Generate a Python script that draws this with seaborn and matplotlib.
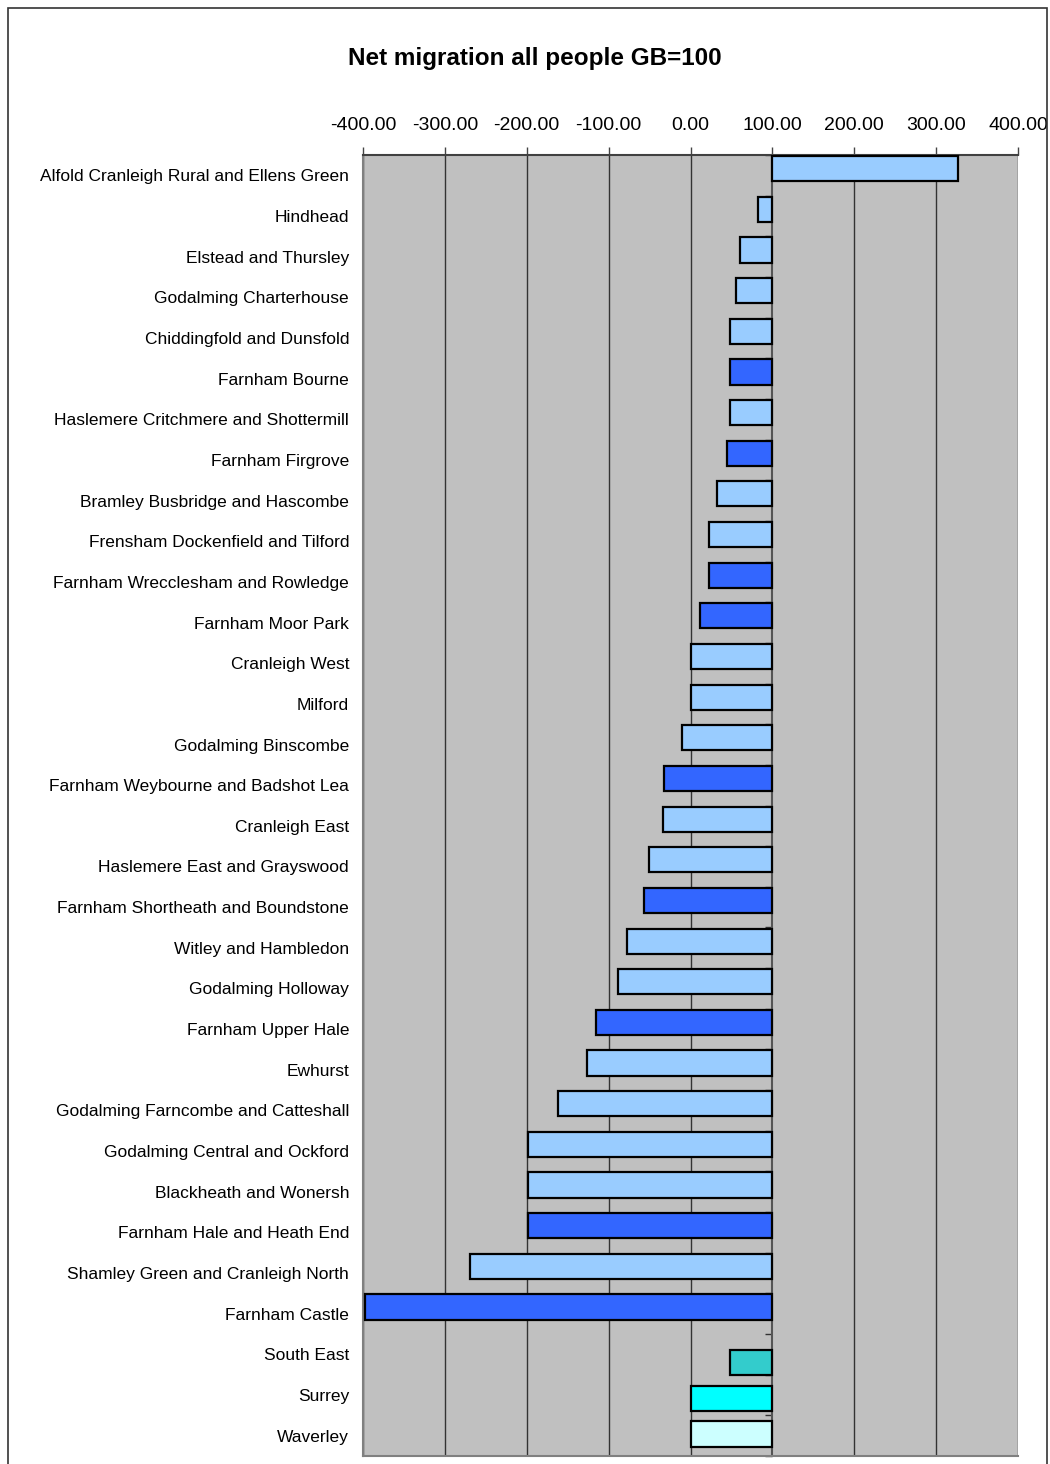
import matplotlib
matplotlib.use("Agg")
import matplotlib.pyplot as plt
import seaborn as sns
import pandas as pd
import numpy as np
from matplotlib.patches import Rectangle
from matplotlib.ticker import FuncFormatter, FixedLocator

areas = [
    "Alfold Cranleigh Rural and Ellens Green", "Hindhead", "Elstead and Thursley",
    "Godalming Charterhouse", "Chiddingfold and Dunsfold", "Farnham Bourne",
    "Haslemere Critchmere and Shottermill", "Farnham Firgrove",
    "Bramley Busbridge and Hascombe", "Frensham Dockenfield and Tilford",
    "Farnham Wrecclesham and Rowledge", "Farnham Moor Park", "Cranleigh West",
    "Milford", "Godalming Binscombe", "Farnham Weybourne and Badshot Lea",
    "Cranleigh East", "Haslemere East and Grayswood",
    "Farnham Shortheath and Boundstone", "Witley and Hambledon",
    "Godalming Holloway", "Farnham Upper Hale", "Ewhurst",
    "Godalming Farncombe and Catteshall", "Godalming Central and Ockford",
    "Blackheath and Wonersh", "Farnham Hale and Heath End",
    "Shamley Green and Cranleigh North", "Farnham Castle",
    "South East", "Surrey", "Waverley",
]
values = [
    327, 82, 60, 56, 48, 48, 48, 45, 32, 23, 22, 11, 1, 1, -10, -32, -34, -51,
    -57, -77, -88, -116, -127, -162, -199, -199, -199, -269, -397,
    48, 1, 1,
]
colors = [
    "#99CCFF", "#99CCFF", "#99CCFF", "#99CCFF", "#99CCFF", "#3366FF",
    "#99CCFF", "#3366FF", "#99CCFF", "#99CCFF", "#3366FF", "#3366FF",
    "#99CCFF", "#99CCFF", "#99CCFF", "#3366FF", "#99CCFF", "#99CCFF",
    "#3366FF", "#99CCFF", "#99CCFF", "#3366FF", "#99CCFF", "#99CCFF",
    "#99CCFF", "#99CCFF", "#3366FF", "#99CCFF", "#3366FF",
    "#33CCCC", "#00FFFF", "#CCFFFF",
]
# chart series each row belongs to (the original is a clustered, overlapped bar chart)
series = ["Wards"] * 29 + ["South East", "Surrey", "Waverley"]
series_order = ["Wards", "Waverley", "Surrey", "South East"]
base = 100
ticks = [-400, -300, -200, -100, 0, 100, 200, 300, 400]

sns.set_style("white")
plt.rcParams["font.family"] = ["Liberation Sans", "DejaVu Sans"]
plt.rcParams["text.color"] = "black"
plt.rcParams["xtick.color"] = "#444444"
plt.rcParams["ytick.color"] = "#444444"
plt.rcParams["xtick.labelcolor"] = "black"
plt.rcParams["ytick.labelcolor"] = "black"

n = len(areas)
step = 0.123
centre = 0.02
df = pd.DataFrame({"area": areas, "diff": [v - base for v in values],
                   "series": series})
df["row"] = np.arange(n)
df["pos"] = df["row"] + centre + (
    df["series"].map({s: k for k, s in enumerate(series_order)}) - 1.5) * step
palette = dict(zip(areas, colors))

fig = plt.figure(figsize=(10.5, 14.64), dpi=100)
ax = fig.add_axes([363 / 1050, 1 - 1456 / 1464, 655 / 1050, (1456 - 155) / 1464])
ax.set_facecolor("#C0C0C0")

for s in series_order:
    sub = df[df["series"] == s]
    sns.barplot(
        data=sub, x="diff", y="pos", hue="area", palette=palette, legend=False,
        orient="h", native_scale=True, left=base, width=0.62,
        edgecolor="black", linewidth=1.6, saturation=1, ax=ax, zorder=3,
    )

ax.set_xlim(-400, 400)
ax.set_ylim(n - 0.5, -0.5)
ax.set_yticks(np.arange(n), labels=areas)
ax.yaxis.set_minor_locator(FixedLocator(np.arange(n + 1) - 0.5))
ax.set_xticks(ticks)
ax.xaxis.set_major_formatter(FuncFormatter(lambda v, p: f"{v:.2f}"))
ax.xaxis.tick_top()
ax.tick_params(axis="x", which="major", length=6, width=1,
               labelsize=14, pad=9, direction="out")
ax.tick_params(axis="y", which="major", left=True, right=False, length=0,
               labelsize=12.5, pad=10)
ax.tick_params(axis="y", which="minor", left=False, right=True, length=5,
               width=1, direction="in", color="#333333")
ax.set_xlabel("")
ax.set_ylabel("")
for t in ticks:
    if t != base:
        ax.axvline(t, color="#333333", linewidth=1, zorder=1)
ax.spines["right"].set_position(("data", base))
ax.spines["right"].set_color("#555555")
ax.spines["right"].set_linewidth(1.5)
ax.spines["right"].set_zorder(2)
for s in ["top", "left", "bottom"]:
    ax.spines[s].set_visible(True)
    ax.spines[s].set_color("#808080")
    ax.spines[s].set_linewidth(1.5)
ax.spines["top"].set_color("#404040")

fig.text(535 / 1050, 1 - 59 / 1464, "Net migration all people GB=100",
         ha="center", va="center", fontsize=17.5, fontweight="bold")

fig.patches.append(Rectangle((8 / 1050, -0.01), (1047 - 8) / 1050, 1 - 8 / 1464 + 0.01,
                             transform=fig.transFigure, fill=False,
                             edgecolor="#333333", linewidth=1.2))

fig.savefig("out.png", dpi=100, facecolor="white")
